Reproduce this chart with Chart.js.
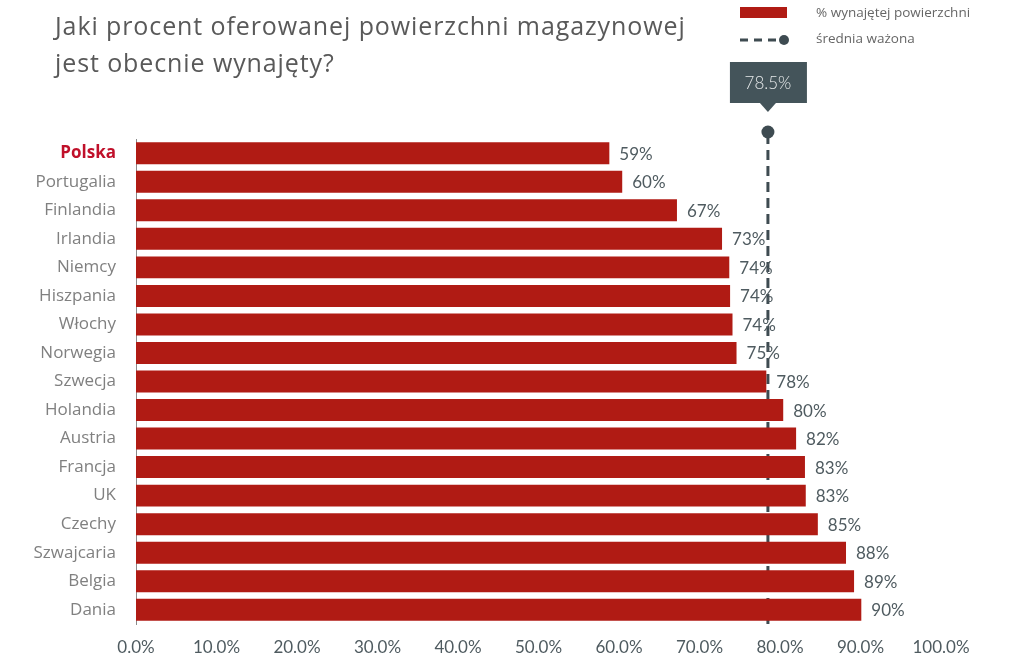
<!DOCTYPE html>
<html><head><meta charset="utf-8">
<script src="https://cdn.jsdelivr.net/npm/chart.js@4"></script>
<style>html,body{margin:0;padding:0;background:#fff;}#wrap{position:relative;width:1024px;height:665px;}</style>
</head><body><div id="wrap"><canvas id="c" width="1024" height="665"></canvas></div>
<script>
const countries = ["Polska","Portugalia","Finlandia","Irlandia","Niemcy","Hiszpania","Włochy","Norwegia","Szwecja","Holandia","Austria","Francja","UK","Czechy","Szwajcaria","Belgia","Dania"];
const leasedPct = [58.8,60.4,67.2,72.8,73.7,73.8,74.1,74.6,78.3,80.4,82.0,83.1,83.2,84.7,88.2,89.2,90.1];
const weightedAvg = 78.5;
const xTicks = [0,10,20,30,40,50,60,70,80,90,100];
const titleLines = ["Jaki procent oferowanej powierzchni magazynowej","jest obecnie wynajęty?"];
const legendLabels = ["% wynajętej powierzchni","średnia ważona"];

const RED = '#b01b14';
const SLATE = '#3e4b51';

const decor = {
  id:'decor',
  beforeDatasetsDraw(chart){
    const ctx = chart.ctx, xs = chart.scales.x, ys = chart.scales.y;
    const x = xs.getPixelForValue(weightedAvg);
    ctx.save();
    ctx.strokeStyle = SLATE; ctx.lineWidth = 3; ctx.setLineDash([10,6]);
    ctx.beginPath(); ctx.moveTo(x, 134); ctx.lineTo(x, ys.bottom+2); ctx.stroke();
    ctx.restore();
  },
  afterDatasetsDraw(chart){
    const ctx = chart.ctx, xs = chart.scales.x;
    const meta = chart.getDatasetMeta(0);
    ctx.save();
    ctx.font = '17px Lato'; ctx.fillStyle = '#4f5b60'; ctx.textBaseline='middle'; ctx.textAlign='left';
    meta.data.forEach((el,i)=>{
      ctx.fillText(Math.round(leasedPct[i])+'%', el.x+10, el.y+1);
    });
    const x = xs.getPixelForValue(weightedAvg);
    ctx.fillStyle = SLATE;
    ctx.beginPath(); ctx.arc(x,132,6.5,0,Math.PI*2); ctx.fill();
    ctx.fillStyle = '#44545a';
    ctx.fillRect(x-38, 62, 77, 41);
    ctx.beginPath(); ctx.moveTo(x-8,103); ctx.lineTo(x+8,103); ctx.lineTo(x,112); ctx.closePath(); ctx.fill();
    ctx.fillStyle = '#e6e9ea'; ctx.font = '300 17px Lato'; ctx.textAlign='center';
    ctx.fillText(weightedAvg.toFixed(1)+'%', x, 84);
    ctx.textAlign='left'; ctx.textBaseline='alphabetic';
    ctx.fillStyle = '#595959'; ctx.font = '25px "Open Sans"';
    try { ctx.letterSpacing = '0.9px'; } catch(e){}
    ctx.fillText(titleLines[0], 55, 35);
    ctx.fillText(titleLines[1], 55, 72);
    try { ctx.letterSpacing = '0px'; } catch(e){}
    ctx.fillStyle = RED; ctx.fillRect(740,7,47,11);
    ctx.strokeStyle = SLATE; ctx.lineWidth = 3; ctx.setLineDash([8,6]);
    ctx.beginPath(); ctx.moveTo(740,40); ctx.lineTo(782,40); ctx.stroke(); ctx.setLineDash([]);
    ctx.fillStyle = SLATE; ctx.beginPath(); ctx.arc(784,40,5,0,Math.PI*2); ctx.fill();
    ctx.fillStyle = '#666'; ctx.font = '13.5px "Open Sans"'; ctx.textBaseline='middle';
    ctx.fillText(legendLabels[0], 816, 13);
    ctx.fillText(legendLabels[1], 816, 39);
    ctx.restore();
  }
};

new Chart(document.getElementById('c'), {
  type:'bar',
  data:{ labels: countries, datasets:[{ label: legendLabels[0], data: leasedPct, backgroundColor: RED, barPercentage:0.77, categoryPercentage:1 }]},
  options:{
    indexAxis:'y', responsive:false, animation:false,
    layout:{ padding:{ top:139, right:83, bottom:0, left:0 } },
    plugins:{ legend:{display:false}, tooltip:{enabled:false} },
    scales:{
      x:{ min:0, max:100, afterBuildTicks(s){ s.ticks = xTicks.map(v=>({value:v})); },
        afterFit(s){ s.height = 41; },
        grid:{ display:false, drawTicks:false }, border:{ display:false },
        ticks:{ padding:13, color:'#4f5b60', font:{ family:'Lato', size:17 }, callback:v=>v.toFixed(1)+'%', maxRotation:0, autoSkip:false } },
      y:{ afterFit(s){ s.width = 136; },
        grid:{ display:false, drawTicks:false }, border:{ display:true, color:'#8a8a8a', width:1 },
        ticks:{ padding:20, color: c => c.index===0 ? '#c0102a' : '#808080',
          font: c => ({ family:'"Open Sans"', size:17, weight: c.index===0 ? 'bold' : 'normal' }) } }
    }
  },
  plugins:[decor]
});
</script></body></html>
